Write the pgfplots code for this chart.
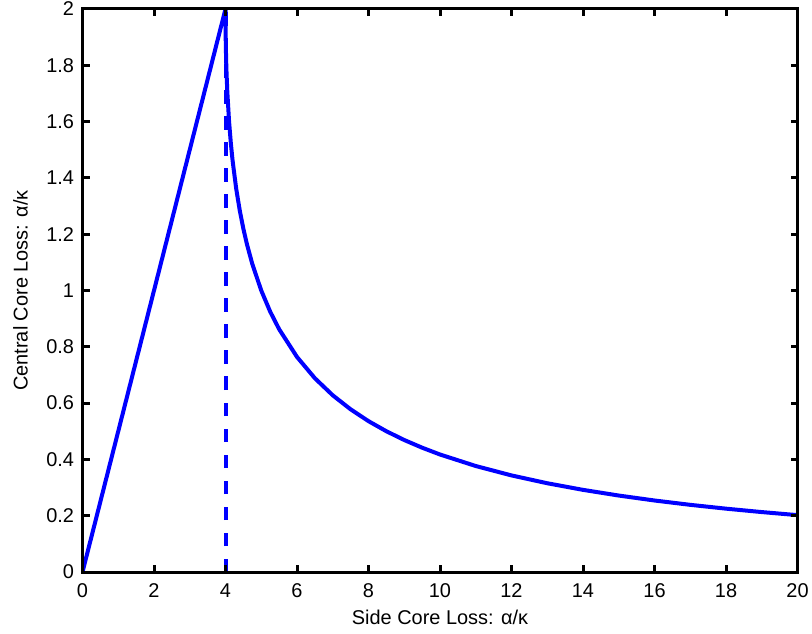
\documentclass[border=0pt]{standalone}
\usepackage{fontspec}
\setmainfont{Liberation Sans}
\usepackage{pgfplots}
\pgfplotsset{compat=1.18}
\definecolor{mblue}{RGB}{0,0,255}
\begin{document}
\fontsize{10}{12}\selectfont
\begin{tikzpicture}
\begin{axis}[
  scale only axis, width=357.5bp, height=281.5bp,
  xmin=0, xmax=20, ymin=0, ymax=2,
  xtick={0,2,4,6,8,10,12,14,16,18,20},
  ytick={0,0.2,0.4,0.6,0.8,1,1.2,1.4,1.6,1.8,2},
  tick align=inside, major tick length=3.5bp,
  tick style={black, line width=1.5bp},
  axis line style={line width=1.5bp},
  /pgf/number format/assume math mode=true,
  every tick label/.append style={font=\fontsize{10}{12}\selectfont},
  xticklabel style={yshift=-2.5bp},
  yticklabel style={xshift=-0.7bp},
  xlabel={Side Core Loss: α/κ},
  ylabel={Central Core Loss: α/κ},
  xlabel style={at={(axis description cs:0.5,0)}, anchor=center, yshift=-22.5bp},
  ylabel style={at={(axis description cs:0,0.5)}, anchor=center, yshift=31bp},
  axis on top,
]
\coordinate (ll) at (rel axis cs:0,0);
\coordinate (ur) at (rel axis cs:1,1);
\addplot[mblue, line width=2bp, line join=round] coordinates {
 (0,0) (4,2) (4.001,1.9558) (4.005,1.9025) (4.01,1.8635) (4.02,1.8098)
 (4.03,1.7696) (4.05,1.7078) (4.1,1.6) (4.15,1.5222) (4.2,1.4597)
 (4.3,1.361) (4.4,1.2835) (4.5,1.2192) (4.6,1.1642) (4.75,1.0941)
 (5,1.0) (5.25,0.9248) (5.5,0.8626) (6,0.7639) (6.5,0.6883) (7,0.6277)
 (7.5,0.5779) (8,0.5359) (8.5,0.5) (9,0.4689) (9.5,0.4416) (10,0.4174)
 (11,0.3765) (12,0.3431) (13,0.3153) (14,0.2918) (15,0.2716) (16,0.2540)
 (17,0.2386) (18,0.2250) (19,0.2129) (20,0.2020)
};
\addplot[mblue, line width=2bp, dash pattern=on 6.75bp off 6.25bp] coordinates {(4,0) (4,2)};
\end{axis}
\pgfresetboundingbox
\path[use as bounding box] ([shift={(-41.25bp,-31bp)}]ll) rectangle ([shift={(7.25bp,4.5bp)}]ur);
\end{tikzpicture}
\end{document}
